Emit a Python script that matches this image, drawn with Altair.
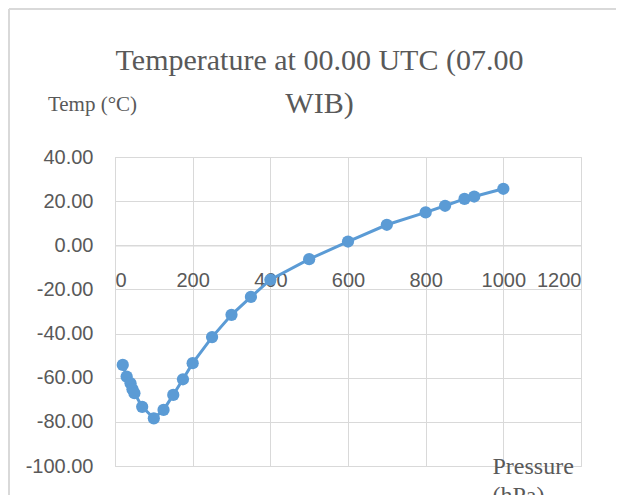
import altair as alt
import pandas as pd

# Data
pressure = [20, 30, 40, 45, 50, 70, 100, 125, 150, 175, 200, 250, 300, 350,
            400, 500, 600, 700, 800, 850, 900, 925, 1000]
temperature = [-54.2, -59.5, -62.5, -65.2, -67.0, -73.2, -78.4, -74.6, -67.8,
               -60.7, -53.4, -41.6, -31.5, -23.4, -15.6, -6.3, 1.7, 9.3, 14.9,
               17.9, 21.0, 22.1, 25.6]

x_ticks = [0, 200, 400, 600, 800, 1000, 1200]
y_ticks = [-100, -80, -60, -40, -20, 0, 20, 40]

title_text = "Temperature at 00.00 UTC (07.00\nWIB)"
y_title = "Temp (°C)"
x_title = ["Pressure", "(hPa)"]

df = pd.DataFrame({"pressure": pressure, "temp": temperature})

GRID = "#d9d9d9"
TEXT = "#595959"
BLUE = "#5B9BD5"

x_enc = alt.X(
    "pressure:Q",
    scale=alt.Scale(domain=[0, 1200], nice=False),
    axis=alt.Axis(
        values=x_ticks,
        format="d",
        offset=-220.5,
        grid=True,
        gridColor=GRID,
        domainColor=GRID,
        ticks=False,
        labelPadding=25,
        labelFont="Liberation Sans",
        labelFontSize=20,
        labelColor=TEXT,
        title=x_title,
        titleFont="Liberation Serif",
        titleFontSize=24,
        titleFontWeight="normal",
        titleColor=TEXT,
        titleAlign="left",
        titleBaseline="alphabetic",
        titleX=377,
        titleY=227.5,
        titleLineHeight=29,
    ),
)
y_enc = alt.Y(
    "temp:Q",
    scale=alt.Scale(domain=[-100, 40], nice=False),
    axis=alt.Axis(
        values=y_ticks,
        labelExpr="replace(format(datum.value, '.2f'), '\u2212', '-')",
        grid=True,
        gridColor=GRID,
        domainColor=GRID,
        ticks=False,
        labelPadding=22,
        labelFont="Liberation Sans",
        labelFontSize=20,
        labelColor=TEXT,
        title=y_title,
        titleFont="Liberation Serif",
        titleFontSize=21,
        titleFontWeight="normal",
        titleColor=TEXT,
        titleAngle=0,
        titleAlign="center",
        titleBaseline="middle",
        titleX=-23,
        titleY=-53,
    ),
)

one = alt.Data(values=[{"a": 1}])
frame_top = alt.Chart(one).mark_rule(color=GRID, strokeWidth=2).encode(
    x=alt.value(-106), x2=alt.value(700), y=alt.value(-148)
)
frame_left = alt.Chart(one).mark_rule(color=GRID, strokeWidth=2).encode(
    x=alt.value(-106), y=alt.value(-148), y2=alt.value(600)
)

title = alt.Chart(one).mark_text(
    text=title_text,
    lineBreak="\n",
    font="Liberation Serif",
    fontSize=30,
    color=TEXT,
    align="center",
    baseline="alphabetic",
    lineHeight=43,
).encode(x=alt.value(204.5), y=alt.value(-87))

line = alt.Chart(df).mark_line(color=BLUE, strokeWidth=3).encode(x=x_enc, y=y_enc)
points = alt.Chart(df).mark_circle(color=BLUE, size=150, opacity=1).encode(
    x="pressure:Q", y="temp:Q"
)

chart = (
    alt.layer(frame_top, frame_left, title, line, points)
    .properties(
        width=466,
        height=309,
        autosize=alt.AutoSizeParams(type="none"),
        padding={"left": 107, "top": 149, "right": 35, "bottom": 29},
    )
    .configure_view(stroke=GRID)
    .configure(background="white")
)

chart.save("out.html", embed_options={"renderer": "svg", "actions": False})
